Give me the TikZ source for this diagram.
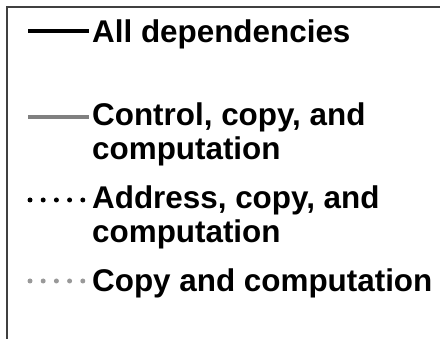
\documentclass[tikz,border=0pt]{standalone}
\usepackage{fontspec}
\setmainfont{Liberation Sans}
\begin{document}
\begin{tikzpicture}[x=1pt,y=-1pt,
  lbl/.style={anchor=base west,inner sep=0pt,align=left,font=\fontsize{31.4}{34}\selectfont\bfseries},
  solidline/.style={line width=4.5pt},
  dotline/.style={line width=5pt,line cap=round,dash pattern=on 0pt off 13.2pt}]
\useasboundingbox (0,0) rectangle (440,339);
\draw[line width=2pt,color=black!75] (7,339) -- (7,7) -- (440,7);
\coordinate (a1) at (28,31);
\coordinate (a2) at (89,31);
\node[lbl] (ta) at (92,43) {All dependencies};
\draw[solidline,black] (a1) -- (a2);
\coordinate (b1) at (28,117);
\coordinate (b2) at (89,117);
\node[lbl] (tb) at (92,160) {Control, copy, and\\computation};
\draw[solidline,black!50] (b1) -- (b2);
\coordinate (c1) at (30,200);
\coordinate (c2) at (84,200);
\node[lbl] (tc) at (92,243) {Address, copy, and\\computation};
\draw[dotline,black] (c1) -- (c2);
\coordinate (d1) at (30,281);
\coordinate (d2) at (84,281);
\node[lbl] (td) at (92,292) {Copy and computation};
\draw[dotline,black!40] (d1) -- (d2);
\end{tikzpicture}
\end{document}
